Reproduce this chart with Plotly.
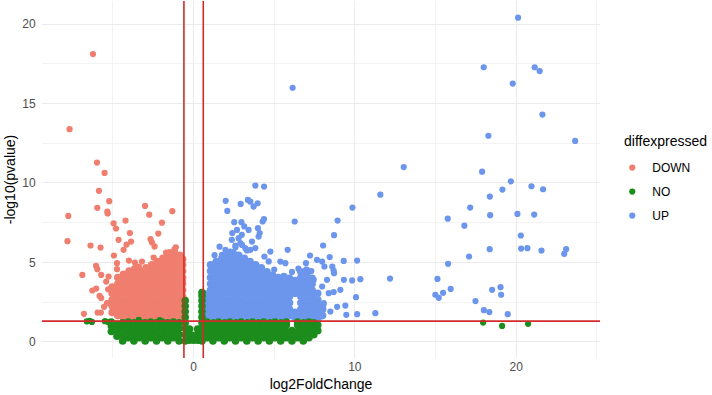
import plotly.graph_objects as go

# ---------------- data ----------------
# DOWN: isolated points
down_x = [-6.24, -7.69, -5.99, -5.52, -5.87, -5.23, -5.97, -5.35, -5.33, -7.77, -3.01, -2.75,
          -1.32, -4.96, -4.81, -4.22, -1.96, -3.95, -2.19, -7.82, -4.65, -3.88, -4.16, -4.34,
          -2.67, -2.58, -2.42, -6.39, -5.77, -1.18, -4.94, -6.90, -6.05, -5.97, -5.73, -6.28,
          -6.04, -5.83, -5.73, -6.80, -5.95, -5.75, -5.37, -0.66, -4.01, -3.64, -3.39, -4.75,
          -4.75, -5.27, -5.42, -2.48, -1.71, -1.50, -2.07, -5.30, -5.55, -3.20, -1.10]
down_y = [18.11, 13.38, 11.28, 10.63, 9.50, 8.85, 8.43, 8.20, 8.08, 7.92, 8.55, 8.00,
          8.22, 7.46, 7.13, 7.63, 7.50, 6.84, 6.81, 6.33, 6.42, 6.31, 6.12, 5.79,
          6.46, 6.25, 6.00, 6.06, 5.93, 5.83, 5.43, 4.21, 4.78, 4.57, 4.21, 3.23,
          3.35, 2.89, 2.75, 1.76, 1.84, 1.84, 2.43, 3.84, 5.11, 4.99, 4.74, 4.95,
          4.57, 4.11, 3.79, 5.30, 5.62, 5.65, 4.95, 3.30, 2.20, 5.05, 5.95]
# DOWN: dense cloud, read column by column
down_cols_x = [-5.05, -4.70, -4.35, -4.00, -3.65, -3.30, -2.95, -2.60, -2.25, -1.90, -1.55, -1.20, -0.85, -0.68]
down_cols_y = [
    [1.85, 2.25, 2.65, 3.05, 3.45],
    [1.65, 2.05, 2.45, 2.85, 3.25, 3.65, 4.05],
    [1.45, 1.85, 2.25, 2.65, 3.05, 3.45, 3.85, 4.25],
    [1.65, 2.05, 2.45, 2.85, 3.25, 3.65, 4.05, 4.45],
    [1.45, 1.85, 2.25, 2.65, 3.05, 3.45, 3.85, 4.25, 4.60],
    [1.65, 2.05, 2.45, 2.85, 3.25, 3.65, 4.05, 4.45],
    [1.45, 1.85, 2.25, 2.65, 3.05, 3.45, 3.85, 4.25, 4.65],
    [1.65, 2.05, 2.45, 2.85, 3.25, 3.65, 4.05, 4.45, 4.85],
    [1.45, 1.85, 2.25, 2.65, 3.05, 3.45, 3.85, 4.25, 4.65, 5.05],
    [1.65, 2.05, 2.45, 2.85, 3.25, 3.65, 4.05, 4.45, 4.85, 5.25],
    [1.45, 1.85, 2.25, 2.65, 3.05, 3.45, 3.85, 4.25, 4.65, 5.05, 5.45],
    [1.65, 2.05, 2.45, 2.85, 3.25, 3.65, 4.05, 4.45, 4.85, 5.25, 5.65],
    [1.45, 1.85, 2.25, 2.65, 3.05, 3.45, 3.85, 4.25, 4.65, 5.05, 5.45],
    [1.65, 2.05, 2.45, 2.85, 3.25, 3.65, 4.05, 4.45, 4.85, 5.20],
]

# UP: isolated points
up_x = [20.12, 17.99, 21.15, 21.46, 19.79, 21.63, 18.28, 23.66, 13.03, 17.89, 19.67, 19.15,
        20.95, 21.67, 18.37, 17.15, 15.76, 16.79, 18.39, 20.08, 21.12, 20.29, 20.31, 20.70,
        18.36, 21.57, 23.10, 22.98, 17.08, 15.78, 15.12, 14.99, 15.20, 15.47, 15.94, 17.48,
        18.51, 19.03, 19.07, 18.00, 18.34, 19.48, 6.14, 11.58, 3.83, 4.37, 1.99, 2.92,
        3.37, 3.52, 3.97, 3.72, 2.09, 9.85, 6.27, 8.93, 2.52, 2.97, 3.14, 3.41,
        3.99, 4.36, 4.28, 2.40, 2.69, 2.99, 2.79, 2.90, 2.59, 3.62, 4.03, 4.10,
        3.52, 3.83, 3.20, 2.37, 1.61, 1.97, 1.76, 2.27, 4.39, 4.66, 4.76, 5.83,
        5.38, 5.69, 7.22, 6.97, 7.65, 7.97, 8.44, 8.11, 8.03, 8.71, 9.31, 10.14,
        8.60, 8.68, 8.71, 9.32, 9.83, 10.34, 12.18, 8.69, 9.10, 10.07, 9.41, 9.47,
        10.14, 11.27, 7.55, 7.75, 7.45, 8.27, 7.97, 8.38, 8.07, 8.48, 8.90, 2.60,
        3.00, 3.30, 1.30, 6.50, 6.10, 5.00, 7.30]
up_y = [20.40, 17.28, 17.28, 17.04, 16.25, 14.30, 12.97, 12.64, 11.00, 10.71, 10.10, 9.58,
        9.79, 9.60, 9.14, 8.45, 7.75, 7.31, 7.97, 8.05, 8.01, 6.69, 5.87, 5.89,
        5.83, 5.74, 5.83, 5.53, 5.37, 4.91, 3.96, 2.96, 2.77, 3.08, 3.33, 2.56,
        3.27, 3.44, 2.96, 1.99, 1.87, 1.74, 15.99, 9.26, 9.83, 9.77, 8.87, 8.68,
        8.93, 8.82, 8.72, 8.51, 8.24, 8.45, 7.57, 7.63, 7.53, 7.53, 7.26, 7.04,
        7.15, 7.72, 7.57, 6.84, 7.04, 6.73, 6.52, 6.21, 6.06, 6.31, 6.62, 6.84,
        5.79, 5.90, 5.90, 6.42, 5.99, 5.79, 5.48, 5.68, 5.37, 5.06, 5.68, 5.79,
        5.05, 4.95, 5.43, 4.95, 5.16, 5.05, 5.33, 4.74, 6.06, 6.71, 5.09, 5.11,
        4.74, 4.48, 4.32, 3.90, 3.86, 3.94, 3.98, 3.13, 3.27, 2.81, 2.28, 1.70,
        1.74, 1.80, 2.01, 1.76, 3.90, 3.90, 3.48, 3.06, 2.43, 1.90, 2.20, 5.95,
        6.10, 5.75, 5.45, 4.60, 4.40, 4.55, 4.45]
# UP: dense cloud, read column by column
up_cols_x = [0.72, 1.05, 1.40, 1.75, 2.10, 2.45, 2.80, 3.15, 3.50, 3.85, 4.20, 4.55, 4.90,
             5.25, 5.60, 5.95, 6.30, 6.65, 7.00, 7.35, 7.70, 8.00]
up_cols_y = [
    [1.45, 1.85, 2.25, 2.65, 3.00],
    [1.65, 2.05, 2.45, 2.85, 3.25, 3.65, 4.05, 4.45, 4.85],
    [1.45, 1.85, 2.25, 2.65, 3.05, 3.45, 3.85, 4.25, 4.65, 5.05],
    [1.65, 2.05, 2.45, 2.85, 3.25, 3.65, 4.05, 4.45, 4.85, 5.25],
    [1.45, 1.85, 2.25, 2.65, 3.05, 3.45, 3.85, 4.25, 4.65, 5.05, 5.45],
    [1.65, 2.05, 2.45, 2.85, 3.25, 3.65, 4.05, 4.45, 4.85, 5.25, 5.60],
    [1.45, 1.85, 2.25, 2.65, 3.05, 3.45, 3.85, 4.25, 4.65, 5.05, 5.45],
    [1.65, 2.05, 2.45, 2.85, 3.25, 3.65, 4.05, 4.45, 4.85, 5.25],
    [1.45, 1.85, 2.25, 2.65, 3.05, 3.45, 3.85, 4.25, 4.65, 5.05],
    [1.65, 2.05, 2.45, 2.85, 3.25, 3.65, 4.05, 4.45, 4.85],
    [1.45, 1.85, 2.25, 2.65, 3.05, 3.45, 3.85, 4.25, 4.65],
    [1.65, 2.05, 2.45, 2.85, 3.25, 3.65, 4.05, 4.40],
    [1.45, 1.85, 2.25, 2.65, 3.05, 3.45, 3.85, 4.20],
    [1.65, 2.05, 2.45, 2.85, 3.25, 3.65, 4.05],
    [1.45, 1.85, 2.25, 2.65, 3.05, 3.45, 3.85, 4.10],
    [1.65, 2.05, 2.45, 2.85, 3.25, 3.65, 4.00],
    [1.45, 1.85, 3.05, 3.45, 3.85],
    [1.65, 2.05, 2.45, 2.85, 3.25, 3.65, 4.05, 4.40],
    [1.45, 1.85, 2.25, 2.65, 3.05, 3.45, 3.85, 4.25, 4.50],
    [1.65, 2.05, 2.45, 2.85, 3.25, 3.65, 4.00],
    [1.45, 1.85, 2.25, 2.65, 3.05],
    [1.65, 2.05, 2.30],
]

# NO: isolated points
no_x = [-6.62, -6.45, -6.30, -5.50, -5.30, 17.95, 19.13, 20.74, -3.40, -2.10]
no_y = [1.28, 1.32, 1.25, 1.30, 1.25, 1.21, 1.00, 1.13, 1.38, 1.36]
# NO: dense band, read column by column
no_cols_x = [-5.10, -4.75, -4.40, -4.05, -3.70, -3.35, -3.00, -2.65, -2.30, -1.95, -1.60,
             -1.25, -0.90, -0.52, -0.25, 0.00, 0.25, 0.52, 0.85, 1.20, 1.55, 1.90, 2.25,
             2.60, 2.95, 3.30, 3.65, 4.00, 4.35, 4.70, 5.05, 5.40, 5.75, 6.10, 6.45, 6.80,
             7.15, 7.45, 7.70]
no_cols_y = [
    [0.65, 1.00, 1.25],
    [0.35, 0.75, 1.10],
    [0.05, 0.45, 0.85, 1.20],
    [0.25, 0.65, 1.05, 1.25],
    [0.05, 0.45, 0.85, 1.20],
    [0.25, 0.65, 1.05, 1.25],
    [0.05, 0.45, 0.85, 1.20],
    [0.25, 0.65, 1.05, 1.25],
    [0.05, 0.45, 0.85, 1.20],
    [0.25, 0.65, 1.05, 1.25],
    [0.05, 0.45, 0.85, 1.20],
    [0.25, 0.65, 1.05, 1.25],
    [0.05, 0.45, 0.85, 1.20],
    [0.05, 0.45, 0.85, 1.20, 1.55, 1.90, 2.25, 2.60],
    [0.10, 0.45, 0.80],
    [0.10, 0.40],
    [0.10, 0.45, 0.80],
    [0.05, 0.45, 0.85, 1.20, 1.55, 1.90, 2.25, 2.60, 2.90, 3.10],
    [0.25, 0.65, 1.05, 1.25],
    [0.05, 0.45, 0.85, 1.20],
    [0.25, 0.65, 1.05, 1.25],
    [0.05, 0.45, 0.85, 1.20],
    [0.25, 0.65, 1.05, 1.25],
    [0.05, 0.45, 0.85, 1.20],
    [0.25, 0.65, 1.05, 1.25],
    [0.05, 0.45, 0.85, 1.20],
    [0.25, 0.65, 1.05, 1.25],
    [0.05, 0.45, 0.85, 1.20],
    [0.25, 0.65, 1.05, 1.25],
    [0.05, 0.45, 0.85, 1.20],
    [0.25, 0.65, 1.05, 1.25],
    [0.05, 0.45, 0.85, 1.20],
    [0.25, 0.65, 1.05, 1.25],
    [0.05, 0.45, 0.70],
    [0.25, 0.65, 1.05, 1.25],
    [0.05, 0.45, 0.85, 1.20],
    [0.25, 0.65, 1.05, 1.25],
    [0.45, 0.85, 1.20],
    [0.70, 1.05],
]

fc_threshold = [-0.6, 0.6]
p_threshold = 1.301  # -log10(0.05)

categories = ["DOWN", "NO", "UP"]
colors = {"DOWN": "#F07E6E", "NO": "#1C8C1C", "UP": "#6C96EC"}


def flatten(cols_x, cols_y):
    xs, ys = [], []
    for cx, col in zip(cols_x, cols_y):
        for cy in col:
            xs.append(cx)
            ys.append(cy)
    return xs, ys


sparse = {"DOWN": (down_x, down_y), "UP": (up_x, up_y), "NO": (no_x, no_y)}
dense = {
    "DOWN": flatten(down_cols_x, down_cols_y),
    "UP": flatten(up_cols_x, up_cols_y),
    "NO": flatten(no_cols_x, no_cols_y),
}

FONT = "Liberation Sans, Arial, Helvetica, sans-serif"
fig = go.Figure()
for name in ["DOWN", "UP", "NO"]:
    dx, dy = dense[name]
    fig.add_trace(go.Scatter(
        x=dx, y=dy, mode="markers", name=name, legendgroup=name, showlegend=False,
        marker=dict(size=7.6, color=colors[name], line=dict(width=0)),
        hoverinfo="skip",
    ))
    sx, sy = sparse[name]
    fig.add_trace(go.Scatter(
        x=sx, y=sy, mode="markers", name=name,
        legendgroup=name, legendrank=categories.index(name) + 1,
        marker=dict(size=6.2, color=colors[name], line=dict(width=0)),
        hoverinfo="skip",
    ))

line_color = "#D32B2B"
for v in fc_threshold:
    fig.add_shape(type="line", xref="x", yref="paper", x0=v, x1=v, y0=0, y1=1,
                  line=dict(color=line_color, width=1.6), layer="above")
fig.add_shape(type="line", xref="paper", yref="y", x0=0, x1=1, y0=p_threshold, y1=p_threshold,
              line=dict(color=line_color, width=1.6), layer="above")

grid_major = "#EBEBEB"
grid_minor = "#F3F3F3"
fig.update_xaxes(
    range=[-9.4, 25.2], tickvals=[0, 10, 20], ticktext=["0", "10", "20"],
    showgrid=True, gridcolor=grid_major, gridwidth=1.1, zeroline=False, showline=False,
    ticks="", automargin=False,
    minor=dict(tickvals=[-5, 5, 15, 25], showgrid=True, gridcolor=grid_minor, gridwidth=0.6),
    tickfont=dict(size=12, color="#4D4D4D", family=FONT),
    title=dict(text="log2FoldChange", font=dict(size=14, color="#000000", family=FONT), standoff=6),
)
fig.update_yaxes(
    range=[-1.02, 21.45], tickvals=[0, 5, 10, 15, 20], ticktext=["0", "5", "10", "15", "20"],
    showgrid=True, gridcolor=grid_major, gridwidth=1.1, zeroline=False, showline=False,
    ticks="outside", ticklen=3, tickcolor="rgba(0,0,0,0)", automargin=False,
    minor=dict(tickvals=[2.5, 7.5, 12.5, 17.5], showgrid=True, gridcolor=grid_minor, gridwidth=0.6),
    tickfont=dict(size=12, color="#4D4D4D", family=FONT),
    title=dict(text="-log10(pvalue)", font=dict(size=14, color="#000000", family=FONT), standoff=3),
)

fig.update_layout(
    width=712, height=395,
    margin=dict(l=42, r=112, t=1, b=37),
    paper_bgcolor="white", plot_bgcolor="white",
    font=dict(family=FONT),
    legend=dict(
        font=dict(size=12, color="#000000", family=FONT),
        x=1.022, xanchor="left", y=0.574, yanchor="top",
        itemwidth=30, tracegroupgap=5, traceorder="grouped",
        bgcolor="rgba(0,0,0,0)",
    ),
    annotations=[dict(
        text="diffexpressed", xref="paper", yref="paper", x=1.0395, y=0.609,
        xanchor="left", yanchor="middle", showarrow=False,
        font=dict(size=14, color="#000000", family=FONT),
    )],
    showlegend=True,
)

fig.write_html(
    "out.html",
    config={"displayModeBar": False},
    post_script="document.body.style.margin='0';document.body.style.overflow='hidden';",
)
